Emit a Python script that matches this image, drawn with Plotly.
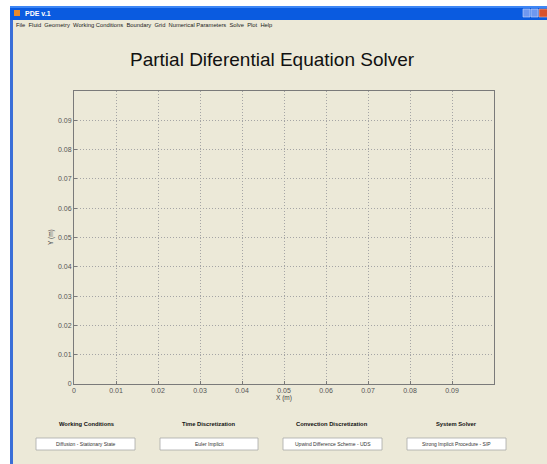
import plotly.graph_objects as go

# ---- data ----
x_tick_vals = [0, 0.01, 0.02, 0.03, 0.04, 0.05, 0.06, 0.07, 0.08, 0.09]
x_tick_text = ["0", "0.01", "0.02", "0.03", "0.04", "0.05", "0.06", "0.07", "0.08", "0.09"]
y_tick_vals = [0, 0.01, 0.02, 0.03, 0.04, 0.05, 0.06, 0.07, 0.08, 0.09]
y_tick_text = ["0", "0.01", "0.02", "0.03", "0.04", "0.05", "0.06", "0.07", "0.08", "0.09"]
axis_range = [0, 0.1]
menu_items = ["File", "Fluid", "Geometry", "Working Conditions", "Boundary", "Grid",
              "Numerical Parameters", "Solve", "Plot", "Help"]
panel_titles = ["Working Conditions", "Time Discretization",
                "Convection Discretization", "System Solver"]
panel_values = ["Diffusion - Stationary State", "Euler Implicit",
                "Upwind Difference Scheme - UDS", "Strong Implicit Procedure - SIP"]
window_title = "PDE v.1"
main_title = "Partial Diferential Equation Solver"

# ---- layout geometry (pixels) ----
WIDTH, HEIGHT = 547, 464
L, R, T, B = 74, 494, 91, 384
PW, PH = R - L, B - T

def px(x):
    return (x - L) / PW

def py(y):
    return (B - y) / PH

FONT = "Liberation Sans, Arial, sans-serif"
BG = "#ECE9D8"

shapes = []
annotations = []

def rect(x0, y0, x1, y1, fill, line=None, lw=0, layer="below"):
    shapes.append(dict(type="rect", xref="paper", yref="paper",
                       x0=px(x0), x1=px(x1), y0=py(y1), y1=py(y0),
                       fillcolor=fill, line=dict(color=line or fill, width=lw),
                       layer=layer))

def text(x, y, s, size, color="#000", bold=False, xanchor="center", angle=0):
    annotations.append(dict(xref="paper", yref="paper", x=px(x), y=py(y),
                            text=("<b>%s</b>" % s) if bold else s, showarrow=False,
                            xanchor=xanchor, yanchor="middle", textangle=angle,
                            font=dict(family=FONT, size=size, color=color)))

# white outer area
rect(0, 0, WIDTH, HEIGHT, "#FFFFFF")
# window body
rect(11, 6, WIDTH + 2, HEIGHT + 2, BG)
# left window border
rect(10, 6, 13, HEIGHT + 2, "#3A6FD8")
# title bar
rect(10, 6, WIDTH + 2, 20, "#0A5BE0")
rect(10, 6, WIDTH + 2, 8, "#3D86F5")
# title bar icon and buttons
rect(14, 10, 20, 16, "#E8892A")
rect(523, 9, 530, 17, "#6E98F0", "#C9D8FA", 0.6, layer="above")
rect(531, 9, 538, 17, "#6E98F0", "#C9D8FA", 0.6, layer="above")
rect(539, 9, 549, 17, "#D8512D", "#F0B8A8", 0.6, layer="above")
text(23, 13, window_title, 7, "#FFFFFF", bold=True, xanchor="left")

# menu bar
text(14, 24.5, "&nbsp;&nbsp;".join(menu_items), 5.8, "#222", xanchor="left")

# main title
text(272, 60, main_title, 19, "#111")

# bottom panels
title_x = [86, 209, 332, 456]
box_x = [(36, 135), (160, 258), (283, 382), (407, 506)]
for t, v, cx, (bx0, bx1) in zip(panel_titles, panel_values, title_x, box_x):
    text(cx, 424, t, 5.8, "#111", bold=True)
    rect(bx0, 438, bx1, 450, "#FFFFFF", "#A8A8A8", 0.8, layer="above")
    text((bx0 + bx1) / 2, 444, v, 5, "#333")

# axis labels
text(284, 398, "X (m)", 6.5, "#444")
text(51, 237, "Y (m)", 6.5, "#444", angle=-90)

fig = go.Figure()
fig.add_trace(go.Scatter(x=[], y=[], mode="lines", showlegend=False))

axis_common = dict(range=axis_range, showgrid=True, gridcolor="#A5A5A5",
                   griddash="1px,2px", gridwidth=1, zeroline=False,
                   showline=True, linecolor="#7A7A7A", linewidth=1, mirror=True,
                   ticks="inside", ticklen=3, tickcolor="#7A7A7A",
                   tickfont=dict(family=FONT, size=7, color="#555"),
                   fixedrange=True)

fig.update_layout(
    width=WIDTH, height=HEIGHT,
    margin=dict(l=L, r=WIDTH - R, t=T, b=HEIGHT - B, pad=0),
    paper_bgcolor=BG, plot_bgcolor="#FFFFFF",
    showlegend=False,
    xaxis=dict(tickvals=x_tick_vals, ticktext=x_tick_text, **axis_common),
    yaxis=dict(tickvals=y_tick_vals, ticktext=y_tick_text, **axis_common),
    shapes=shapes, annotations=annotations,
)

fig.write_html("out.html", config={"displayModeBar": False},
               post_script="document.body.style.margin='0';")
